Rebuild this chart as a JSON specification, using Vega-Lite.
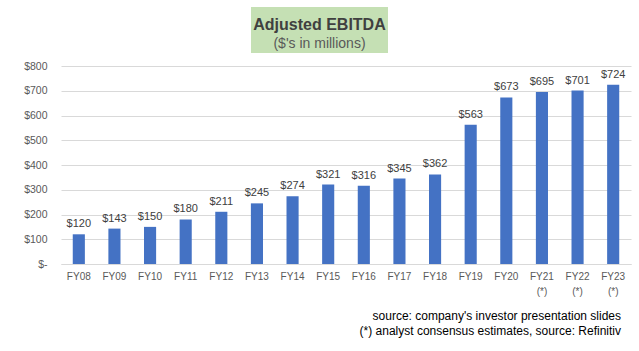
{
  "$schema": "https://vega.github.io/schema/vega-lite/v6.json",
  "background": "white",
  "padding": {"left": 23, "top": 7, "right": 6, "bottom": 4},
  "align": "none",
  "spacing": 8,
  "config": {"font": "Liberation Sans", "view": {"stroke": null}},
  "vconcat": [
    {
      "spacing": 0,
      "hconcat": [
        {
          "width": 190,
          "height": 46,
          "data": {"values": []},
          "mark": {"type": "text"},
          "encoding": {}
        },
        {
          "width": 137,
          "height": 46,
          "view": {"fill": "#C5E0B4", "stroke": null},
          "data": {"values": [
            {"line": "title", "text": "Adjusted EBITDA"},
            {"line": "subtitle", "text": "($'s in millions)"}
          ]},
          "layer": [
            {
              "transform": [{"filter": "datum.line == 'title'"}],
              "mark": {"type": "text", "font": "Liberation Sans", "fontWeight": "bold", "fontSize": 16, "color": "#404040", "dy": 6},
              "encoding": {
                "text": {"field": "text"},
                "y": {"field": "line", "type": "nominal", "scale": {"domain": ["title", "subtitle"]}, "axis": null}
              }
            },
            {
              "transform": [{"filter": "datum.line == 'subtitle'"}],
              "mark": {"type": "text", "font": "Liberation Sans", "fontSize": 14, "color": "#595959", "dy": 2},
              "encoding": {
                "text": {"field": "text"},
                "y": {"field": "line", "type": "nominal", "scale": {"domain": ["title", "subtitle"]}, "axis": null}
              }
            }
          ]
        }
      ]
    },
    {
      "width": 570,
      "height": 198,
      "data": {"values": [
        {"fy": "FY08", "value": 120},
        {"fy": "FY09", "value": 143},
        {"fy": "FY10", "value": 150},
        {"fy": "FY11", "value": 180},
        {"fy": "FY12", "value": 211},
        {"fy": "FY13", "value": 245},
        {"fy": "FY14", "value": 274},
        {"fy": "FY15", "value": 321},
        {"fy": "FY16", "value": 316},
        {"fy": "FY17", "value": 345},
        {"fy": "FY18", "value": 362},
        {"fy": "FY19", "value": 563},
        {"fy": "FY20", "value": 673},
        {"fy": "FY21 (*)", "value": 695},
        {"fy": "FY22 (*)", "value": 701},
        {"fy": "FY23 (*)", "value": 724}
      ]},
      "title": {
        "text": ["source: company's investor presentation slides", "(*) analyst consensus estimates, source: Refinitiv"],
        "orient": "bottom",
        "anchor": "end",
        "align": "right",
        "font": "Liberation Sans",
        "fontSize": 12,
        "fontWeight": "normal",
        "color": "#000000",
        "lineHeight": 15,
        "offset": 15,
        "dx": -10
      },
      "encoding": {
        "x": {
          "field": "fy",
          "type": "ordinal",
          "sort": null,
          "scale": {"paddingInner": 0.66, "paddingOuter": 0.33},
          "axis": {
            "title": null,
            "labelAngle": 0,
            "ticks": false,
            "domain": true,
            "domainColor": "#D9D9D9",
            "grid": false,
            "labelColor": "#595959",
            "labelFontSize": 10,
            "labelPadding": 7,
            "labelLineHeight": 15,
            "labelExpr": "split(datum.label, ' ')"
          }
        },
        "y": {
          "field": "value",
          "type": "quantitative",
          "scale": {"domain": [0, 800]},
          "axis": {
            "title": null,
            "values": [0, 100, 200, 300, 400, 500, 600, 700, 800],
            "ticks": false,
            "domain": false,
            "gridColor": "#D9D9D9",
            "labelColor": "#595959",
            "labelFontSize": 10.5,
            "labelPadding": 14,
            "labelExpr": "datum.value == 0 ? '$-' : '$' + datum.value"
          }
        }
      },
      "layer": [
        {"mark": {"type": "bar", "color": "#4472C4"}},
        {
          "mark": {"type": "text", "baseline": "bottom", "dy": -5, "fontSize": 11, "color": "#404040"},
          "encoding": {"text": {"field": "value", "type": "quantitative", "format": "$.0f"}}
        }
      ]
    }
  ]
}
